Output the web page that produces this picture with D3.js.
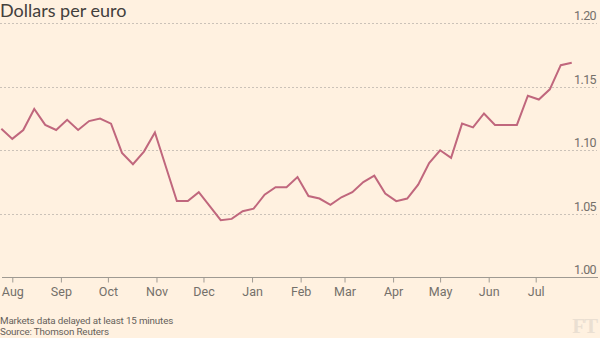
<!DOCTYPE html>
<html>
<head>
<meta charset="utf-8">
<script src="https://cdn.jsdelivr.net/npm/d3@7"></script>
<style>
  html, body { margin: 0; padding: 0; background: #fff1e0; }
  svg { display: block; }
</style>
</head>
<body>
<svg id="chart" width="600" height="338"></svg>
<script>
// Weekly EUR/USD fixes (Mondays), late July 2016 to late July 2017
const startDate = "2016-07-25";
const rates = [
  1.117, 1.109, 1.116, 1.1325, 1.120, 1.116, 1.124, 1.116, 1.123, 1.125,
  1.121, 1.098, 1.089, 1.099, 1.114, 1.087, 1.060, 1.060, 1.067, 1.056,
  1.045, 1.046, 1.052, 1.054, 1.065, 1.071, 1.071, 1.079, 1.064, 1.062,
  1.057, 1.063, 1.067, 1.075, 1.080, 1.066, 1.060, 1.062, 1.073, 1.090,
  1.100, 1.094, 1.121, 1.118, 1.129, 1.120, 1.120, 1.120, 1.143, 1.140,
  1.148, 1.167, 1.169
];
const yTicks = [1.00, 1.05, 1.10, 1.15, 1.20];
const monthTicks = ["2016-08-01","2016-09-01","2016-10-01","2016-11-01","2016-12-01",
  "2017-01-01","2017-02-01","2017-03-01","2017-04-01","2017-05-01","2017-06-01","2017-07-01"];

const parse = d3.utcParse("%Y-%m-%d");
const t0 = parse(startDate);
const data = rates.map((v, i) => ({ date: d3.utcDay.offset(t0, i * 7), value: v }));

const svg = d3.select("#chart");
const W = 600, H = 338;

const x = d3.scaleUtc()
  .domain([parse("2016-08-01"), parse("2017-07-01")])
  .range([12.3, 535.7]);
const y = d3.scaleLinear().domain([1.0, 1.2]).range([277.3, 23.3]);

// background
svg.append("rect").attr("width", W).attr("height", H).attr("fill", "#fff1e0");

// horizontal gridlines with value labels at the right end
const grid = svg.append("g");
grid.selectAll("line")
  .data(yTicks.filter(d => d > 1.0))
  .join("line")
  .attr("x1", 0).attr("x2", 597)
  .attr("y1", d => Math.round(y(d)) + 0.5)
  .attr("y2", d => Math.round(y(d)) + 0.5)
  .attr("stroke", "#cbc2b8")
  .attr("stroke-width", 1)
  .attr("stroke-dasharray", "2,2");

grid.selectAll("text")
  .data(yTicks)
  .join("text")
  .attr("x", 596)
  .attr("y", d => Math.round(y(d)) - 3)
  .attr("text-anchor", "end")
  .attr("font-family", "Roboto, sans-serif")
  .attr("font-size", 12.5)
  .attr("letter-spacing", -0.6)
  .attr("fill", "#74706a")
  .text(d => d.toFixed(2));

// x axis
const xAxis = d3.axisBottom(x)
  .tickValues(monthTicks.map(parse))
  .tickFormat(d3.utcFormat("%b"))
  .tickSize(5)
  .tickPadding(5);

const ax = svg.append("g")
  .attr("transform", `translate(0,${Math.round(y(1.0))})`)
  .call(xAxis);
ax.select(".domain").remove();
ax.insert("line", ":first-child")
  .attr("x1", 2).attr("x2", 598)
  .attr("y1", 0.5).attr("y2", 0.5)
  .attr("stroke", "#9f9a92").attr("stroke-width", 1);
ax.selectAll(".tick line").attr("stroke", "#9f9a92").attr("transform", "translate(0,0.5)");
ax.selectAll(".tick text")
  .attr("font-family", "Roboto, sans-serif")
  .attr("font-size", 12.5)
  .attr("fill", "#74706a");

// the rate line
const line = d3.line()
  .x(d => x(d.date))
  .y(d => y(d.value));

svg.append("path")
  .datum(data)
  .attr("d", line)
  .attr("fill", "none")
  .attr("stroke", "#c0677d")
  .attr("stroke-width", 2)
  .attr("stroke-linejoin", "miter");

// title
svg.append("text")
  .attr("x", 0).attr("y", 17)
  .attr("font-family", "Lato, sans-serif")
  .attr("font-size", 18)
  .attr("fill", "#43403c")
  .text("Dollars per euro");

// footer notes
const foot = svg.append("g")
  .attr("font-family", "Roboto, sans-serif")
  .attr("font-size", 9.8)
  .attr("letter-spacing", -0.15)
  .attr("fill", "#66615b");
foot.append("text").attr("x", 0).attr("y", 324).text("Markets data delayed at least 15 minutes");
foot.append("text").attr("x", 0).attr("y", 335).text("Source: Thomson Reuters");

// FT mark
svg.append("text")
  .attr("x", 597).attr("y", 333)
  .attr("text-anchor", "end")
  .attr("font-family", "'Liberation Serif', serif")
  .attr("font-weight", "bold")
  .attr("font-size", 21)
  .attr("letter-spacing", -1)
  .attr("fill", "#eadfd2")
  .text("FT");
</script>
</body>
</html>
